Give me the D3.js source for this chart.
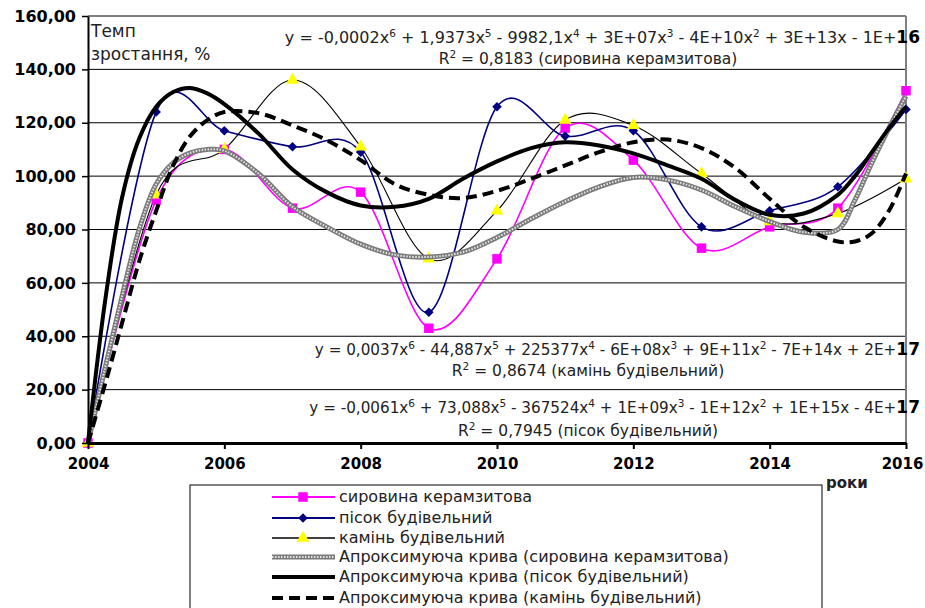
<!DOCTYPE html>
<html>
<head>
<meta charset="utf-8">
<title>Темп зростання</title>
<script src="https://d3js.org/d3.v7.min.js"></script>
<style>
  body { margin: 0; background: #fff; }
  text { font-family: "DejaVu Sans", sans-serif; fill: #222; }
  .tick text { font-weight: bold; fill: #000; }
</style>
</head>
<body>
<div id="chart"></div>
<script>
  // Annual values, %
  const years = [2004, 2005, 2006, 2007, 2008, 2009, 2010, 2011, 2012, 2013, 2014, 2015, 2016];
  const keramzyt = [0, 91, 110, 88, 94, 43, 69, 118, 106, 73, 81, 88, 132];
  const pisok = [0, 124, 117, 111, 109, 49, 126, 115, 117, 81, 87, 96, 125];
  const kamin = [0, 93, 110, 136, 111, 69, 87, 121, 119, 101, 83, 86, 99];

  // Trend curves
  const trendYears = [2004, 2004.25, 2004.5, 2004.75, 2005, 2005.25, 2005.5, 2005.75, 2006, 2006.5,
    2007, 2007.5, 2008, 2008.5, 2009, 2009.5, 2010, 2010.5, 2011, 2011.5, 2012, 2012.5,
    2013, 2013.5, 2014, 2014.5, 2015, 2015.25, 2015.5, 2015.75, 2016];
  const trendKeramzyt = [0, 28, 55, 80, 97, 105, 108.7, 110, 109.5, 101, 88.5, 81, 74.5, 70.5, 69.7, 71.5,
    77, 84, 90.5, 96, 99.5, 98.6, 94.8, 88.5, 83, 79, 80, 91, 105, 118, 130];
  const trendPisok = [0, 53, 92, 114, 126, 131.5, 133, 131, 127, 116, 102.5, 94, 89, 88.5, 91.5, 99,
    105.5, 110.5, 112.7, 111.5, 108.5, 104, 99, 91, 85.5, 86, 93, 100, 109, 118, 126];
  const trendKamin = [0, 22, 45, 68, 87, 104, 115, 121, 124, 123.6, 119, 113.5, 106, 97, 93, 91.8,
    94.5, 99, 104, 109, 112.7, 113.7, 110.5, 103, 91.5, 81, 75.5, 75.5, 78.6, 87, 101];

  const yTicks = [0, 20, 40, 60, 80, 100, 120, 140, 160];
  const xTicks = [2004, 2006, 2008, 2010, 2012, 2014, 2016];

  const legendLabels = [
    "сировина керамзитова",
    "пісок будівельний",
    "камінь будівельний",
    "Апроксимуюча крива (сировина керамзитова)",
    "Апроксимуюча крива (пісок будівельний)",
    "Апроксимуюча крива (камінь будівельний)"
  ];

  const equations = [
    {eq: "y = -0,0002x^6 + 1,9373x^5 - 9982,1x^4 + 3E+07x^3 - 4E+10x^2 + 3E+13x - 1E+", tail: "16",
     r2: "R^2 = 0,8183 (сировина керамзитова)"},
    {eq: "y = 0,0037x^6 - 44,887x^5 + 225377x^4 - 6E+08x^3 + 9E+11x^2 - 7E+14x + 2E+", tail: "17",
     r2: "R^2 = 0,8674 (камінь будівельний)"},
    {eq: "y = -0,0061x^6 + 73,088x^5 - 367524x^4 + 1E+09x^3 - 1E+12x^2 + 1E+15x - 4E+", tail: "17",
     r2: "R^2 = 0,7945 (пісок будівельний)"}
  ];

  const svg = d3.select("#chart").append("svg")
    .attr("width", 925)
    .attr("height", 608);

  const x = d3.scaleLinear().domain([2004, 2016]).range([88, 906]);
  const y = d3.scaleLinear().domain([0, 160]).range([443, 16]);

  // gridlines
  svg.append("g").selectAll("line")
    .data(yTicks.filter(d => d > 0))
    .enter().append("line")
    .attr("x1", x(2004)).attr("x2", x(2016))
    .attr("y1", d => y(d)).attr("y2", d => y(d))
    .attr("stroke", "#000").attr("stroke-width", 1);

  // right frame
  svg.append("line")
    .attr("x1", x(2016)).attr("x2", x(2016))
    .attr("y1", y(160)).attr("y2", y(0))
    .attr("stroke", "#808080").attr("stroke-width", 2);

  // equations of trend curves
  function writeEq(g, str) {
    const parts = str.split(/\^(\d)/);
    parts.forEach((p, i) => {
      if (i % 2 === 1) {
        g.append("tspan").attr("font-size", "10.5px").attr("dy", -6).text(p);
      } else if (p.length) {
        g.append("tspan").attr("dy", i > 0 ? 6 : 0).text(p);
      }
    });
  }
  const eqY = [43, 355, 413];
  const r2Y = [64, 376, 436];
  const eqSize = ["16px", "15.2px", "15.2px"];
  equations.forEach((e, i) => {
    const t = svg.append("text")
      .attr("x", 920).attr("y", eqY[i])
      .attr("text-anchor", "end")
      .style("font-size", eqSize[i]);
    writeEq(t, e.eq);
    t.append("tspan").style("font-weight", "bold").style("font-size", "17px").attr("fill", "#000").text(e.tail);
    const r = svg.append("text")
      .attr("x", 588).attr("y", r2Y[i])
      .attr("text-anchor", "middle")
      .style("font-size", "15.5px");
    writeEq(r, e.r2);
  });

  // axis title
  svg.append("text").attr("x", 91).attr("y", 37).style("font-size", "17px").attr("fill", "#333").text("Темп");
  svg.append("text").attr("x", 91).attr("y", 60).style("font-size", "17px").attr("fill", "#333").text("зростання, %");

  // data lines
  const smooth = d3.line()
    .x(d => x(d[0])).y(d => y(d[1]))
    .curve(d3.curveCatmullRom.alpha(0));
  const trend = d3.line()
    .x(d => x(d[0])).y(d => y(d[1]))
    .curve(d3.curveCatmullRom);

  const series = [
    {vals: keramzyt, color: "#ff00ff", width: 1.6, marker: "square", mfill: "#ff00ff"},
    {vals: pisok, color: "#000080", width: 1.6, marker: "diamond", mfill: "#000080"},
    {vals: kamin, color: "#000", width: 1.1, marker: "triangle", mfill: "#ffff00"}
  ];

  function marker(g, type, fill) {
    let sym;
    if (type === "square") {
      sym = g.append("path").attr("d", d3.symbol(d3.symbolSquare, 90)());
    } else if (type === "diamond") {
      sym = g.append("path").attr("d", d3.symbol(d3.symbolSquare, 46)()).attr("transform", "rotate(45)");
    } else {
      sym = g.append("path").attr("d", d3.symbol(d3.symbolTriangle, 70)());
    }
    sym.attr("fill", fill);
  }

  series.forEach(s => {
    svg.append("path")
      .datum(years.map((yr, i) => [yr, s.vals[i]]))
      .attr("fill", "none")
      .attr("stroke", s.color)
      .attr("stroke-width", s.width)
      .attr("d", smooth);
  });
  series.forEach(s => {
    years.forEach((yr, i) => {
      const g = svg.append("g").attr("transform", "translate(" + x(yr) + "," + y(s.vals[i]) + ")");
      marker(g, s.marker, s.mfill);
    });
  });

  // trend curves
  function drawTrend(g, kind, d, gen) {
    if (kind === "gray") {
      g.append("path").attr("d", gen(d)).attr("fill", "none").attr("stroke", "#7a7a7a").attr("stroke-width", 5);
      g.append("path").attr("d", gen(d)).attr("fill", "none").attr("stroke", "#e6e6e6").attr("stroke-width", 2)
        .attr("stroke-dasharray", "1.5,1.5");
    } else if (kind === "solid") {
      g.append("path").attr("d", gen(d)).attr("fill", "none").attr("stroke", "#000").attr("stroke-width", 4);
    } else {
      g.append("path").attr("d", gen(d)).attr("fill", "none").attr("stroke", "#000").attr("stroke-width", 4)
        .attr("stroke-dasharray", "11,6");
    }
  }
  const trends = [
    {vals: trendKeramzyt, kind: "gray"},
    {vals: trendPisok, kind: "solid"},
    {vals: trendKamin, kind: "dash"}
  ];
  trends.forEach(t => {
    drawTrend(svg.append("g"), t.kind, trendYears.map((yr, i) => [yr, t.vals[i]]), trend);
  });

  // axes
  const fmt = d => d3.format(".2f")(d).replace(".", ",");
  const yAxis = svg.append("g")
    .attr("transform", "translate(" + x(2004) + ",0)")
    .call(d3.axisLeft(y).tickValues(yTicks).tickSize(6).tickSizeOuter(0).tickPadding(6).tickFormat(fmt));
  yAxis.selectAll("text").style("font-size", "16px");
  yAxis.select(".domain").attr("stroke-width", 2);
  yAxis.selectAll(".tick line").attr("stroke-width", 1.5);

  const xAxis = svg.append("g")
    .attr("transform", "translate(0," + y(0) + ")")
    .call(d3.axisBottom(x).tickValues(xTicks).tickSize(6).tickSizeOuter(0).tickPadding(9).tickFormat(d3.format("d")));
  xAxis.selectAll("text").style("font-size", "15px");
  xAxis.selectAll(".tick text").filter(d => d === 2016).attr("dx", -4);
  xAxis.select(".domain").attr("stroke-width", 3);
  xAxis.selectAll(".tick line").attr("stroke-width", 2);

  svg.append("text").attr("x", 826).attr("y", 488)
    .style("font-size", "15px").style("font-weight", "bold").attr("fill", "#000").text("роки");

  // legend
  const legend = svg.append("g");
  legend.append("rect")
    .attr("x", 190).attr("y", 485).attr("width", 632).attr("height", 140)
    .attr("fill", "#fff").attr("stroke", "#000").attr("stroke-width", 1);
  const legY = [497, 518, 538, 557, 577, 598];
  legendLabels.forEach((lab, i) => {
    const row = legend.append("g").attr("transform", "translate(0," + legY[i] + ")");
    const seg = [[272, 0], [335, 0]];
    const segGen = d3.line();
    if (i < 3) {
      const s = series[i];
      row.append("path").attr("d", segGen(seg)).attr("stroke", s.color).attr("stroke-width", s.width + 0.4);
      marker(row.append("g").attr("transform", "translate(303,0)"), s.marker, s.mfill);
    } else {
      drawTrend(row, trends[i - 3].kind, seg, segGen);
    }
    row.append("text").attr("x", 339).attr("y", 5).style("font-size", "16px").text(lab);
  });
</script>
</body>
</html>
